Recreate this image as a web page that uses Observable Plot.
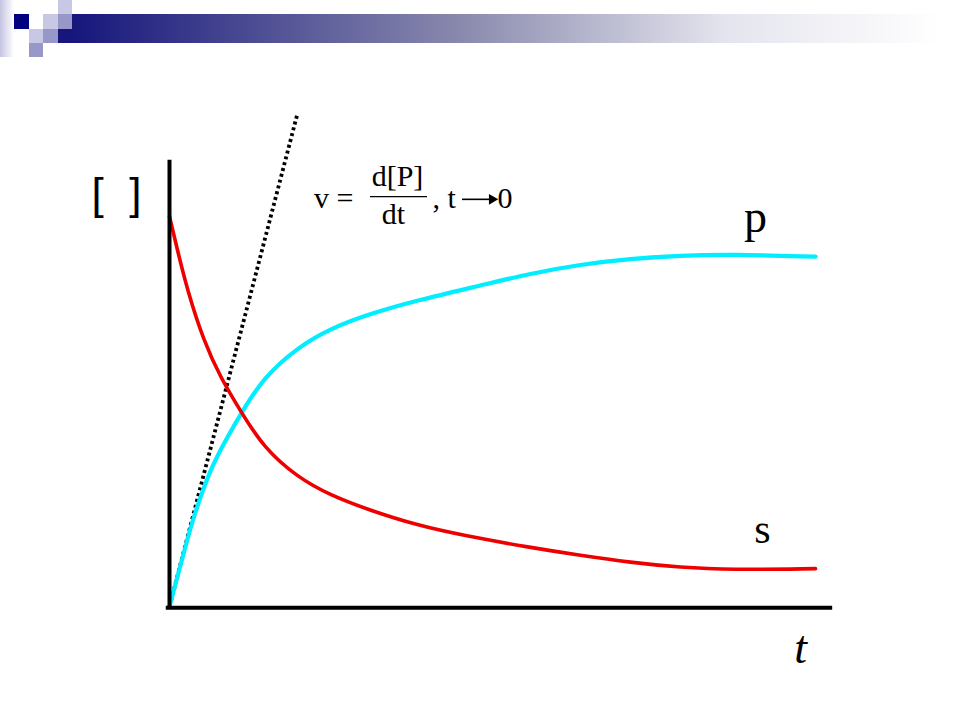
<!DOCTYPE html>
<html>
<head>
<meta charset="utf-8">
<script src="https://cdn.jsdelivr.net/npm/d3@7"></script>
<script src="https://cdn.jsdelivr.net/npm/@observablehq/plot@0.6"></script>
<style>
  html, body { margin: 0; padding: 0; background: #fff; }
  #page { position: relative; width: 960px; height: 720px; overflow: hidden; background: #fff; }
  #page svg { position: absolute; left: 0; top: 0; }
  .sq { position: absolute; }
</style>
</head>
<body>
<div id="page">
  <div class="sq" style="left:0;top:0;width:14px;height:57px;background:linear-gradient(to right,#c4c4e2,#ffffff);"></div>
  <div class="sq" style="left:72px;top:14px;width:870px;height:29px;background:linear-gradient(to right,#16167c 0%,#8a8aae 45%,#e4e4ee 75%,#ffffff 100%);"></div>
  <div class="sq" style="left:14px;top:14px;width:15px;height:15px;background:#000080;"></div>
  <div class="sq" style="left:43px;top:14px;width:15px;height:15px;background:#c8c8e4;"></div>
  <div class="sq" style="left:58px;top:0px;width:14px;height:14px;background:#c8c8e4;"></div>
  <div class="sq" style="left:58px;top:14px;width:14px;height:15px;background:#9898c8;"></div>
  <div class="sq" style="left:29px;top:29px;width:14px;height:14px;background:#c8c8e4;"></div>
  <div class="sq" style="left:43px;top:29px;width:15px;height:14px;background:#9898c8;"></div>
  <div class="sq" style="left:58px;top:29px;width:14px;height:14px;background:#16167c;"></div>
  <div class="sq" style="left:29px;top:43px;width:14px;height:14px;background:#9898c8;"></div>
</div>
<script>
// Time points (arbitrary units) and concentrations
const substrateT = [0, 0.124, 0.278, 0.526, 0.788, 1.113, 1.453, 1.978, 2.488, 3.107, 3.833, 4.544, 5.58, 6.352, 7.125, 7.898, 8.671, 9.985];
const substrateC = [1.0, 0.913, 0.81, 0.682, 0.587, 0.497, 0.408, 0.331, 0.285, 0.246, 0.208, 0.182, 0.151, 0.131, 0.113, 0.1, 0.094, 0.097];
const productT = [0, 0.247, 0.371, 0.634, 0.866, 1.113, 1.453, 1.978, 2.488, 3.107, 3.833, 4.807, 5.58, 6.352, 7.125, 7.898, 8.671, 9.985];
const productC = [0, 0.154, 0.23, 0.354, 0.426, 0.497, 0.587, 0.664, 0.713, 0.751, 0.785, 0.823, 0.854, 0.877, 0.892, 0.9, 0.903, 0.897];
// Initial-rate tangent line through the origin
const tangentT = [0, 1.978];
const tangentC = [0, 1.264];
// Axis extents
const axisXEnd = 10.25;
const axisYEnd = 1.144;

const substrate = substrateT.map((t, i) => ({t, c: substrateC[i]}));
const product = productT.map((t, i) => ({t, c: productC[i]}));
const tangent = tangentT.map((t, i) => ({t, c: tangentC[i]}));

// Label anchors (data units)
const bracketLabels = [{s: "[", t: -1.113, c: 1.018}, {s: "]", t: -0.526, c: 1.018}];
const pLabel = [{s: "p", t: 9.057, c: 0.959}];
const sLabel = [{s: "s", t: 9.165, c: 0.162}];
const tLabel = [{s: "t", t: 9.753, c: -0.146}];
const vLabel = [{s: "v =", t: 2.844, c: 1.023}];
const numLabel = [{s: "d[P]", t: 3.524, c: 1.077}];
const denLabel = [{s: "dt", t: 3.462, c: 0.982}];
const fracBar = [{t1: 3.107, t2: 3.988, c: 1.051}];
const commaLabel = [{s: ", t", t: 4.065, c: 1.023}];
const arrowSeg = [{t1: 4.529, t2: 5.0, c: 1.044}];
const arrowTip = [{t: 4.985, c: 1.044}];
const zeroLabel = [{s: "0", t: 5.07, c: 1.021}];

const serif = "'Liberation Serif', 'Times New Roman', serif";
const sans = "'Liberation Sans', Arial, sans-serif";

const chart = Plot.plot({
  width: 960,
  height: 720,
  margin: 0,
  x: {domain: [0, 12], range: [169, 169 + 12 * 64.7], axis: null},
  y: {domain: [0, 1.5], range: [606, 606 - 1.5 * 390], axis: null},
  style: {background: "transparent", overflow: "visible"},
  marks: [
    Plot.line(tangent, {x: "t", y: "c", stroke: "#000", strokeWidth: 3.8, strokeDasharray: "3,3", strokeLinecap: "butt"}),
    Plot.line(product, {x: "t", y: "c", stroke: "#00eeff", strokeWidth: 4.2, curve: "basis"}),
    Plot.line(substrate, {x: "t", y: "c", stroke: "#ee0000", strokeWidth: 3.6, curve: "basis"}),
    Plot.ruleX([0], {y1: -0.008, y2: axisYEnd, stroke: "#000", strokeWidth: 4}),
    Plot.ruleY([-0.003], {x1: -0.05, x2: axisXEnd, stroke: "#000", strokeWidth: 4}),
    Plot.text(bracketLabels, {x: "t", y: "c", text: "s", fontSize: 44, fontFamily: sans, fontWeight: 300, lineAnchor: "bottom", fill: "#000"}),
    Plot.text(pLabel, {x: "t", y: "c", text: "s", fontSize: 46, fontFamily: serif, lineAnchor: "bottom", fill: "#000"}),
    Plot.text(sLabel, {x: "t", y: "c", text: "s", fontSize: 42, fontFamily: serif, lineAnchor: "bottom", fill: "#000"}),
    Plot.text(tLabel, {x: "t", y: "c", text: "s", fontSize: 46, fontFamily: serif, fontStyle: "italic", lineAnchor: "bottom", fill: "#000"}),
    Plot.text(vLabel, {x: "t", y: "c", text: "s", fontSize: 30, fontFamily: serif, textAnchor: "end", lineAnchor: "bottom", fill: "#000"}),
    Plot.text(numLabel, {x: "t", y: "c", text: "s", fontSize: 30, fontFamily: serif, lineAnchor: "bottom", fill: "#000"}),
    Plot.text(denLabel, {x: "t", y: "c", text: "s", fontSize: 30, fontFamily: serif, lineAnchor: "bottom", fill: "#000"}),
    Plot.ruleY(fracBar, {y: "c", x1: "t1", x2: "t2", stroke: "#000", strokeWidth: 1.2}),
    Plot.text(commaLabel, {x: "t", y: "c", text: "s", fontSize: 30, fontFamily: serif, textAnchor: "start", lineAnchor: "bottom", fill: "#000"}),
    Plot.ruleY(arrowSeg, {y: "c", x1: "t1", x2: "t2", stroke: "#000", strokeWidth: 1.6}),
    Plot.dot(arrowTip, {x: "t", y: "c", symbol: "triangle", r: 4, rotate: 90, fill: "#000", stroke: "none"}),
    Plot.text(zeroLabel, {x: "t", y: "c", text: "s", fontSize: 30, fontFamily: serif, textAnchor: "start", lineAnchor: "bottom", fill: "#000"})
  ]
});
document.getElementById("page").appendChild(chart);
</script>
</body>
</html>
